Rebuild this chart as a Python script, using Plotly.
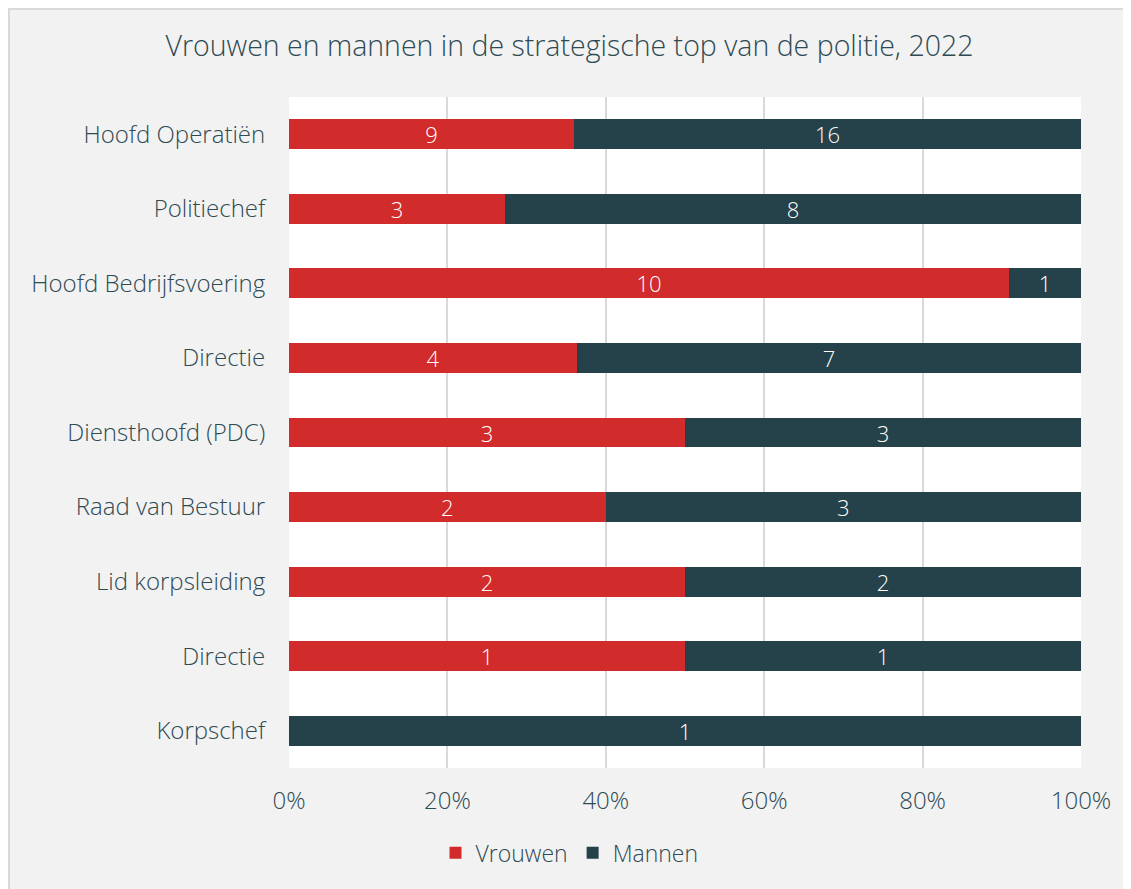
import plotly.graph_objects as go

# Categorieën van boven naar beneden
functies = ["Hoofd Operatiën", "Politiechef", "Hoofd Bedrijfsvoering", "Directie",
            "Diensthoofd (PDC)", "Raad van Bestuur", "Lid korpsleiding", "Directie", "Korpschef"]
vrouwen = [9, 3, 10, 4, 3, 2, 2, 1, 0]
mannen = [16, 8, 1, 7, 3, 3, 2, 1, 1]
x_ticks = [0, 20, 40, 60, 80, 100]
x_labels = ["0%", "20%", "40%", "60%", "80%", "100%"]

ROOD = "#d22b2b"
DONKER = "#25424a"
TEKST = "#2e4a52"
FONT = "Open Sans"

# posities: bovenste categorie bovenaan
posities = list(range(len(functies)))[::-1]

fig = go.Figure()
for naam, waarden, kleur in [("Vrouwen", vrouwen, ROOD), ("Mannen", mannen, DONKER)]:
    fig.add_trace(go.Bar(
        y=posities, x=waarden, name=naam, orientation="h",
        marker=dict(color=kleur, line=dict(width=0)),
        text=[str(v) if v else "" for v in waarden],
        textposition="inside", insidetextanchor="middle", textangle=0,
        textfont=dict(color="white", size=22, family=FONT, weight=300),
    ))

# dunne grijze rand linksboven
fig.add_shape(type="rect", xref="paper", yref="paper", x0=-280 / 792, x1=1.3, y0=-0.4, y1=1 + 88 / 671,
              fillcolor="rgba(0,0,0,0)", line=dict(color="#d9d9d9", width=2), layer="below")

fig.update_layout(
    width=1123, height=881,
    barmode="stack", barnorm="percent", bargap=0.6,
    paper_bgcolor="#f2f2f2", plot_bgcolor="white",
    margin=dict(l=281, r=50, t=89, b=121),
    font=dict(family=FONT, color=TEKST, weight=300),
    title=dict(text="Vrouwen en mannen in de strategische top van de politie, 2022",
               x=0.5, xref="container", y=0.957, yanchor="middle",
               font=dict(size=28.5, color=TEKST, family=FONT, weight=300)),
    legend=dict(orientation="h", x=0.5, xref="container", xanchor="center",
                y=0.041, yref="container", yanchor="middle", traceorder="normal",
                font=dict(size=23, color=TEKST, family=FONT, weight=300),
                bgcolor="rgba(0,0,0,0)", itemwidth=30),
    showlegend=True,
    uniformtext=dict(mode="show", minsize=20),
)
fig.update_xaxes(range=[0, 100], tickvals=x_ticks, ticktext=x_labels,
                 showgrid=True, gridcolor="#d9d9d9", gridwidth=1.5, zeroline=False,
                 ticks="outside", ticklen=11, tickcolor="rgba(0,0,0,0)",
                 tickfont=dict(size=24, color=TEKST, family=FONT, weight=300), fixedrange=True)
fig.update_yaxes(range=[-0.5, len(functies) - 0.5], tickvals=posities, ticktext=functies,
                 showgrid=False, zeroline=False,
                 ticks="outside", ticklen=18, tickcolor="rgba(0,0,0,0)",
                 tickfont=dict(size=24, color=TEKST, family=FONT, weight=300))

fig.write_html("out.html")
